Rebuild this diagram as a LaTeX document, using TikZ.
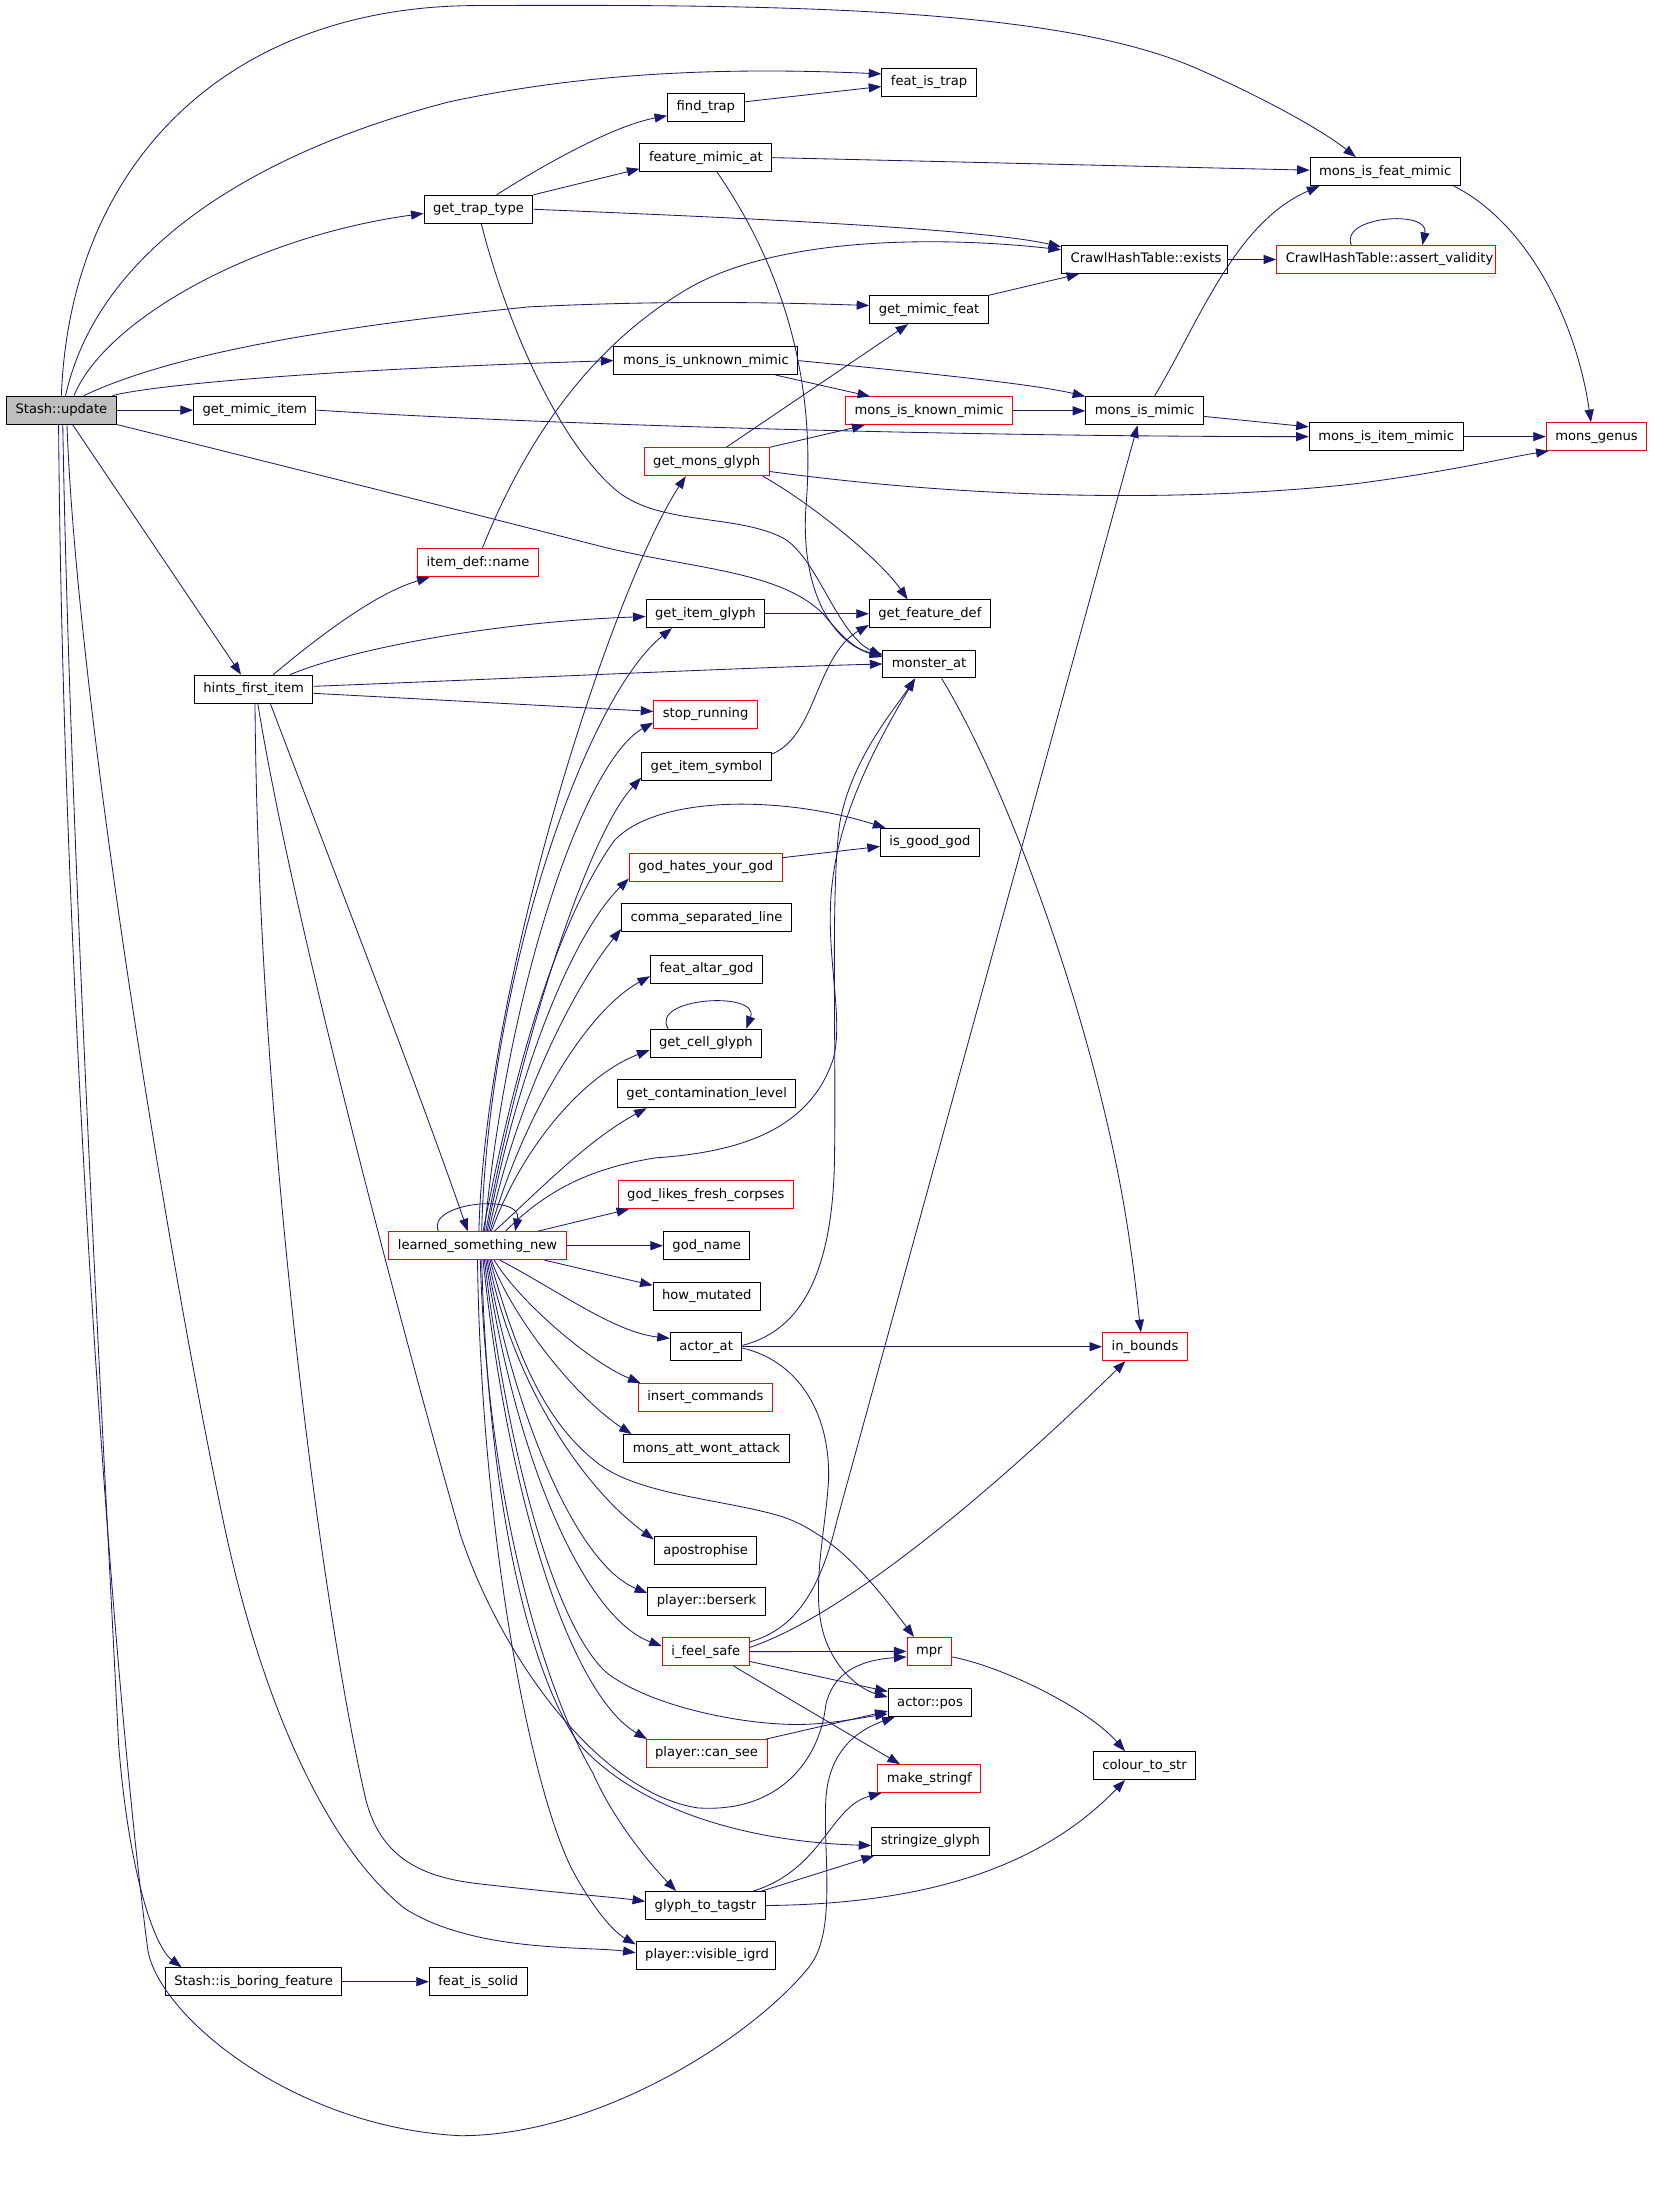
\documentclass[tikz,border=0pt]{standalone}
\usepackage{fontspec}
\setmainfont{DejaVu Sans}
\usetikzlibrary{arrows.meta}
\definecolor{callblue}{HTML}{191970}
\definecolor{boxred}{HTML}{FF0000}
\definecolor{boxgray}{HTML}{BFBFBF}

\begin{document}
\begin{tikzpicture}[x=1pt,y=-1pt,
    fn/.style={draw=black, line width=0.7pt, rectangle, minimum height=20pt,
      inner xsep=6.5pt, inner ysep=0pt, text height=7pt, text depth=2pt,
      font=\fontsize{9.4}{11}\selectfont},
    fnred/.style={fn, draw=boxred},
    fnroot/.style={fn, fill=boxgray},
    callarrow/.style={draw=callblue, line width=0.6pt, -{Triangle[length=9pt,width=6.5pt]}}]
  \useasboundingbox[fill=white] (0,0) rectangle (1185,1568.5);

  % functions
  \node[fnroot] (stash) at (44,294) {Stash::update};
  \node[fn] (mimicitem) at (182.6,294) {get\_mimic\_item};
  \node[fn] (hints) at (181.8,494) {hints\_first\_item};
  \node[fn] (boring) at (181.8,1420.6) {Stash::is\_boring\_feature};
  \node[fn] (traptype) at (343,150) {get\_trap\_type};
  \node[fnred] (itemname) at (342.7,403.5) {item\_def::name};
  \node[fnred] (learned) at (342.3,893) {learned\_something\_new};
  \node[fn] (solid) at (342.9,1420.6) {feat\_is\_solid};
  \node[fn] (findtrap) at (506,77) {find\_trap};
  \node[fn] (mimicat) at (506,113) {feature\_mimic\_at};
  \node[fn] (unknown) at (506,258.5) {mons\_is\_unknown\_mimic};
  \node[fnred] (monsglyph) at (506.6,331) {get\_mons\_glyph};
  \node[fn] (itemglyph) at (505.7,440) {get\_item\_glyph};
  \node[fnred] (stoprun) at (505.8,512) {stop\_running};
  \node[fn] (itemsym) at (506.5,549.5) {get\_item\_symbol};
  \node[fnred] (hates) at (506,621.8) {god\_hates\_your\_god};
  \node[fn] (commasep) at (506.5,658) {comma\_separated\_line};
  \node[fn] (altar) at (506.5,694.8) {feat\_altar\_god};
  \node[fn] (cellglyph) at (506,747.8) {get\_cell\_glyph};
  \node[fn] (contam) at (506.6,784) {get\_contamination\_level};
  \node[fnred] (corpses) at (506,856.4) {god\_likes\_fresh\_corpses};
  \node[fn] (godname) at (506.6,893) {god\_name};
  \node[fn] (mutated) at (506.7,929.4) {how\_mutated};
  \node[fn] (actorat) at (506.2,965.4) {actor\_at};
  \node[fnred] (insert) at (505.7,1001.8) {insert\_commands};
  \node[fn] (wontatt) at (506.4,1038.4) {mons\_att\_wont\_attack};
  \node[fn] (apos) at (505.8,1111.6) {apostrophise};
  \node[fn] (berserk) at (506.5,1148) {player::berserk};
  \node[fnred] (safe) at (505.9,1184) {i\_feel\_safe};
  \node[fnred] (cansee) at (506.5,1257) {player::can\_see};
  \node[fn] (tagstr) at (505.7,1366) {glyph\_to\_tagstr};
  \node[fn] (igrd) at (506,1401.8) {\makebox[87pt][l]{player::visible\_igrd}};
  \node[fn] (featistrap) at (666,59) {feat\_is\_trap};
  \node[fn] (mimicfeat) at (666,222) {get\_mimic\_feat};
  \node[fnred] (known) at (666,294.5) {mons\_is\_known\_mimic};
  \node[fn] (featdef) at (666.6,440) {get\_feature\_def};
  \node[fn] (monsterat) at (666,476) {monster\_at};
  \node[fn] (goodgod) at (666.6,603.8) {is\_good\_god};
  \node[fnred] (mpr) at (666.2,1183.8) {mpr};
  \node[fn] (actorpos) at (666.7,1220.6) {actor::pos};
  \node[fnred] (stringf) at (666.2,1275) {make\_stringf};
  \node[fn] (stringize) at (667,1320) {stringize\_glyph};
  \node[fn] (exists) at (820.5,186) {\makebox[106pt][l]{CrawlHashTable::exists}};
  \node[fn] (ismimic) at (820.5,294.5) {mons\_is\_mimic};
  \node[fnred] (inbounds) at (820.8,965.4) {in\_bounds};
  \node[fn] (colour) at (820.5,1265.7) {colour\_to\_str};
  \node[fn] (featmimic) at (993,123) {mons\_is\_feat\_mimic};
  \node[fnred] (assert) at (993.7,186) {\makebox[144pt][l]{CrawlHashTable::assert\_validity}};
  \node[fn] (itemmimic) at (993.7,313) {mons\_is\_item\_mimic};
  \node[fnred] (genus) at (1144.5,313) {mons\_genus};

  % calls from Stash::update
  \draw[callarrow] (stash.north) .. controls (50,120) and (160,5) .. (340,4) .. controls (560,3) and (760,5) .. (860,50) .. controls (910,72) and (950,95) .. ([xshift=-21pt]featmimic.north);
  \draw[callarrow] ([xshift=3pt]stash.north) .. controls (70,180) and (180,110) .. (322,73) .. controls (420,52) and (520,48) .. ([yshift=6pt]featistrap.west);
  \draw[callarrow] ([xshift=9pt]stash.north) .. controls (75,230) and (180,170) .. ([yshift=-3pt]traptype.west);
  \draw[callarrow] ([xshift=16pt]stash.north) .. controls (110,260) and (200,238) .. (379,220) .. controls (480,215) and (560,217) .. ([yshift=3pt]mimicfeat.west);
  \draw[callarrow] ([xshift=-3pt]stash.north east) .. controls (100,278) and (200,266) .. (unknown.west);
  \draw[callarrow] (stash.east) -- (mimicitem.west);
  \draw[callarrow] (stash.south east) .. controls (200,333) and (330,366) .. (436,393) .. controls (500,408) and (560,410) .. (590,440) .. controls (600,452) and (612,466) .. ([yshift=7pt]monsterat.west);
  \draw[callarrow] ([xshift=8pt]stash.south) -- ([xshift=-9pt]hints.north);
  \draw[callarrow] ([xshift=4pt]stash.south) .. controls (55,500) and (120,900) .. (160,1090) .. controls (185,1210) and (230,1320) .. (290,1368) .. controls (340,1400) and (420,1395) .. ([yshift=2pt]igrd.west);
  \draw[callarrow] ([xshift=1pt]stash.south) .. controls (50,600) and (75,1050) .. (85,1250) .. controls (92,1340) and (110,1395) .. ([xshift=12pt]boring.north west);
  \draw[callarrow] ([xshift=-2pt]stash.south) .. controls (45,700) and (80,1200) .. (106,1398) .. controls (114,1445) and (210,1525) .. (330,1531) .. controls (430,1531) and (540,1460) .. (580,1410) .. controls (600,1385) and (590,1330) .. (592,1290) .. controls (594,1255) and (615,1240) .. ([xshift=5pt]actorpos.south west);

  % calls from hints_first_item
  \draw[callarrow] ([xshift=14pt]hints.north) .. controls (230,455) and (270,425) .. ([xshift=9pt]itemname.south west);
  \draw[callarrow] ([xshift=26pt]hints.north) .. controls (250,466) and (350,446) .. ([yshift=-2pt]itemglyph.west);
  \draw[callarrow] ([yshift=2pt]hints.east) .. controls (400,485) and (550,478) .. (monsterat.west);
  \draw[callarrow] ([yshift=-3pt]hints.east) -- ([yshift=2pt]stoprun.west);
  \draw[callarrow] ([xshift=12pt]hints.south) .. controls (230,600) and (300,780) .. ([xshift=-7pt]learned.north);
  \draw[callarrow] ([xshift=1pt]hints.south) .. controls (185,800) and (230,1150) .. (262,1289) .. controls (272,1330) and (300,1345) .. (340,1350) .. controls (400,1357) and (440,1360) .. ([yshift=3pt]tagstr.west);
  \draw[callarrow] ([xshift=3pt]hints.south) .. controls (210,660) and (290,960) .. (330,1100) .. controls (360,1190) and (430,1285) .. (500,1296) .. controls (560,1300) and (588,1260) .. (592,1222) .. controls (597,1200) and (615,1190) .. ([yshift=-4pt]mpr.west);

  % calls from get_trap_type, feature_mimic_at, find_trap, item_def::name
  \draw[callarrow] ([xshift=13pt]traptype.north) .. controls (390,118) and (440,90) .. ([yshift=-6pt]findtrap.west);
  \draw[callarrow] (traptype.north east) -- ([yshift=-8pt]mimicat.west);
  \draw[callarrow] (traptype.east) .. controls (500,155) and (700,163) .. ([yshift=9pt]exists.west);
  \draw[callarrow] ([xshift=2pt]traptype.south) .. controls (360,220) and (395,310) .. (440,350) .. controls (470,377) and (525,368) .. (560,385) .. controls (585,397) and (600,455) .. ([yshift=6pt]monsterat.west);
  \draw[callarrow] (mimicat.east) -- ([yshift=1pt]featmimic.west);
  \draw[callarrow] ([xshift=8pt]mimicat.south) .. controls (560,190) and (585,270) .. (578,360) .. controls (573,420) and (595,460) .. ([yshift=5pt]monsterat.west);
  \draw[callarrow] ([yshift=4pt]findtrap.east) -- ([yshift=-3pt]featistrap.west);
  \draw[callarrow] ([xshift=3pt]itemname.north) .. controls (375,320) and (420,250) .. (493,207) .. controls (560,168) and (680,170) .. ([yshift=7pt]exists.west);

  % calls from the mimic checks
  \draw[callarrow] ([xshift=50pt]unknown.south) -- ([xshift=18pt]known.north west);
  \draw[callarrow] (unknown.east) .. controls (650,266) and (740,275) .. (ismimic.north west);
  \draw[callarrow] ([xshift=14pt]monsglyph.north) -- ([xshift=-15pt]mimicfeat.south);
  \draw[callarrow] (monsglyph.north east) -- ([xshift=14pt]known.south west);
  \draw[callarrow] ([yshift=-7pt]monsglyph.east) .. controls (700,358) and (850,360) .. (970,347) .. controls (1040,338) and (1080,328) .. ([xshift=2pt]genus.south west);
  \draw[callarrow] ([xshift=-5pt]monsglyph.south east) .. controls (580,360) and (630,400) .. ([xshift=-16pt]featdef.north);
  \draw[callarrow] (itemglyph.east) -- (featdef.west);
  \draw[callarrow] ([yshift=9pt]itemsym.east) .. controls (585,528) and (585,470) .. ([yshift=-8pt]featdef.west);
  \draw[callarrow] ([yshift=7pt]hates.east) -- ([yshift=-3pt]goodgod.west);
  \draw[callarrow] (mimicfeat.north east) -- ([xshift=13pt]exists.south west);
  \draw[callarrow] (exists.east) -- (assert.west);
  \draw[callarrow] ([xshift=7pt]ismimic.north) .. controls (860,230) and (885,160) .. ([xshift=7pt]featmimic.south west);
  \draw[callarrow] (known.east) -- (ismimic.west);
  \draw[callarrow] ([yshift=-4pt]ismimic.east) -- ([yshift=7pt]itemmimic.west);
  \draw[callarrow] (mimicitem.east) .. controls (400,305) and (700,313) .. (itemmimic.west);
  \draw[callarrow] ([xshift=-5pt]featmimic.south east) .. controls (1095,160) and (1130,230) .. ([xshift=-4pt]genus.north);
  \draw[callarrow] (itemmimic.east) -- (genus.west);

  % recursive calls
  \draw[callarrow] ([xshift=-25pt]assert.north) .. controls (960,155) and (1025,150) .. ([xshift=26pt]assert.north);
  \draw[callarrow] ([xshift=-27pt]cellglyph.north) .. controls (465,715) and (545,710) .. ([xshift=29pt]cellglyph.north);
  \draw[callarrow] ([xshift=-28pt]learned.north) .. controls (305,862) and (375,855) .. ([xshift=27pt]learned.north);

  % calls from learned_something_new, upwards
  \draw[callarrow] ([xshift=1pt]learned.north) .. controls (348,700) and (440,420) .. ([xshift=-15pt]monsglyph.south);
  \draw[callarrow] ([xshift=3pt]learned.north) .. controls (350,700) and (420,500) .. ([xshift=-24pt]itemglyph.south);
  \draw[callarrow] ([xshift=5pt]learned.north) .. controls (365,700) and (420,545) .. ([yshift=-6pt]stoprun.west);
  \draw[callarrow] ([xshift=6pt]learned.north) .. controls (370,760) and (420,600) .. ([yshift=-8pt]itemsym.west);
  \draw[callarrow] ([xshift=4pt]learned.north) .. controls (370,760) and (400,660) .. (440,603) .. controls (470,570) and (560,570) .. ([xshift=4pt]goodgod.north west);
  \draw[callarrow] ([xshift=7pt]learned.north) .. controls (370,770) and (410,670) .. ([yshift=-8pt]hates.west);
  \draw[callarrow] ([xshift=8pt]learned.north) .. controls (370,790) and (410,710) .. ([yshift=-8pt]commasep.west);
  \draw[callarrow] ([xshift=9pt]learned.north) .. controls (375,800) and (420,725) .. ([yshift=-5pt]altar.west);
  \draw[callarrow] ([xshift=10pt]learned.north) .. controls (375,820) and (420,770) .. ([yshift=-5pt]cellglyph.west);
  \draw[callarrow] ([xshift=12pt]learned.north) .. controls (385,855) and (420,818) .. ([xshift=-43pt]contam.south);
  \draw[callarrow] ([xshift=-21pt]learned.north east) -- ([xshift=-55pt]corpses.south);
  \draw[callarrow] ([xshift=20pt]learned.north) .. controls (390,855) and (420,838) .. (470,830) .. controls (530,826) and (580,810) .. (597,760) .. controls (606,730) and (590,680) .. (597,630) .. controls (603,580) and (630,530) .. ([xshift=-10pt]monsterat.south);
  \draw[callarrow] (learned.east) -- (godname.west);

  % calls from learned_something_new, downwards
  \draw[callarrow] ([xshift=-16pt]learned.south east) -- ([yshift=8pt]mutated.west);
  \draw[callarrow] ([xshift=16pt]learned.south) .. controls (400,925) and (440,955) .. ([yshift=6pt]actorat.west);
  \draw[callarrow] ([xshift=12pt]learned.south) .. controls (370,930) and (420,975) .. ([xshift=2pt]insert.north west);
  \draw[callarrow] ([xshift=10pt]learned.south) .. controls (365,940) and (410,1000) .. ([xshift=6pt]wontatt.north west);
  \draw[callarrow] ([xshift=9pt]learned.south) .. controls (370,970) and (390,1020) .. (430,1050) .. controls (460,1072) and (520,1075) .. (560,1087) .. controls (600,1100) and (630,1140) .. ([xshift=-11pt]mpr.north);
  \draw[callarrow] ([xshift=8pt]learned.south) .. controls (365,980) and (410,1060) .. ([yshift=8pt]apos.west);
  \draw[callarrow] ([xshift=7pt]learned.south) .. controls (365,1000) and (410,1120) .. ([yshift=6pt]berserk.west);
  \draw[callarrow] ([xshift=6pt]learned.south) .. controls (370,1050) and (420,1160) .. ([yshift=4pt]safe.west);
  \draw[callarrow] ([xshift=5pt]learned.south) .. controls (365,1050) and (400,1170) .. (436,1200) .. controls (470,1225) and (540,1238) .. (580,1236) .. controls (600,1235) and (620,1231) .. ([yshift=-8pt]actorpos.west);
  \draw[callarrow] ([xshift=4pt]learned.south) .. controls (365,1080) and (410,1215) .. ([xshift=1pt]cansee.north west);
  \draw[callarrow] ([xshift=3pt]learned.south) .. controls (350,1080) and (380,1200) .. (415,1250) .. controls (455,1295) and (530,1320) .. ([yshift=-3pt]stringize.west);
  \draw[callarrow] ([xshift=2pt]learned.south) .. controls (350,1090) and (395,1220) .. (425,1271) .. controls (440,1305) and (465,1335) .. ([xshift=-21pt]tagstr.north);
  \draw[callarrow] (learned.south) .. controls (345,1100) and (380,1280) .. (410,1340) .. controls (425,1368) and (440,1385) .. ([yshift=8pt]igrd.west);

  % calls from i_feel_safe, actor_at, monster_at
  \draw[callarrow] (safe.east) -- (mpr.west);
  \draw[callarrow] ([yshift=7pt]safe.east) .. controls (570,1168) and (588,1140) .. (600,1090) -- ([xshift=-5pt]ismimic.south);
  \draw[callarrow] ([yshift=3pt]safe.east) .. controls (600,1160) and (700,1080) .. ([xshift=-14pt]inbounds.south);
  \draw[callarrow] ([yshift=-7pt]safe.east) -- ([yshift=8pt]actorpos.west);
  \draw[callarrow] ([xshift=20pt]safe.south) -- ([xshift=-21pt]stringf.north);
  \draw[callarrow] (actorat.east) -- (inbounds.west);
  \draw[callarrow] ([yshift=1pt]actorat.east) .. controls (570,955) and (595,920) .. (598,840) .. controls (600,760) and (595,640) .. (602,590) .. controls (610,545) and (640,510) .. ([xshift=-10pt]monsterat.south);
  \draw[callarrow] ([yshift=-1pt]actorat.east) .. controls (570,975) and (595,1010) .. (594,1060) .. controls (592,1100) and (578,1150) .. (595,1183) .. controls (605,1203) and (620,1212) .. ([yshift=4pt]actorpos.west);
  \draw[callarrow] ([xshift=9pt]monsterat.south) .. controls (720,560) and (780,720) .. (805,860) .. controls (812,900) and (815,930) .. ([xshift=-3pt]inbounds.north);

  % the remaining calls
  \draw[callarrow] ([xshift=-1pt]cansee.north east) -- ([yshift=-6pt]actorpos.west);
  \draw[callarrow] ([yshift=-4pt]mpr.east) .. controls (720,1195) and (780,1225) .. ([xshift=-14pt]colour.north);
  \draw[callarrow] (tagstr.east) .. controls (650,1365) and (740,1345) .. ([xshift=-14pt]colour.south);
  \draw[callarrow] ([xshift=-9pt]tagstr.north east) .. controls (590,1340) and (595,1295) .. ([xshift=3pt]stringf.south west);
  \draw[callarrow] ([xshift=-3pt]tagstr.north east) -- ([xshift=2pt]stringize.south west);
  \draw[callarrow] (boring.east) -- (solid.west);
\end{tikzpicture}
\end{document}
